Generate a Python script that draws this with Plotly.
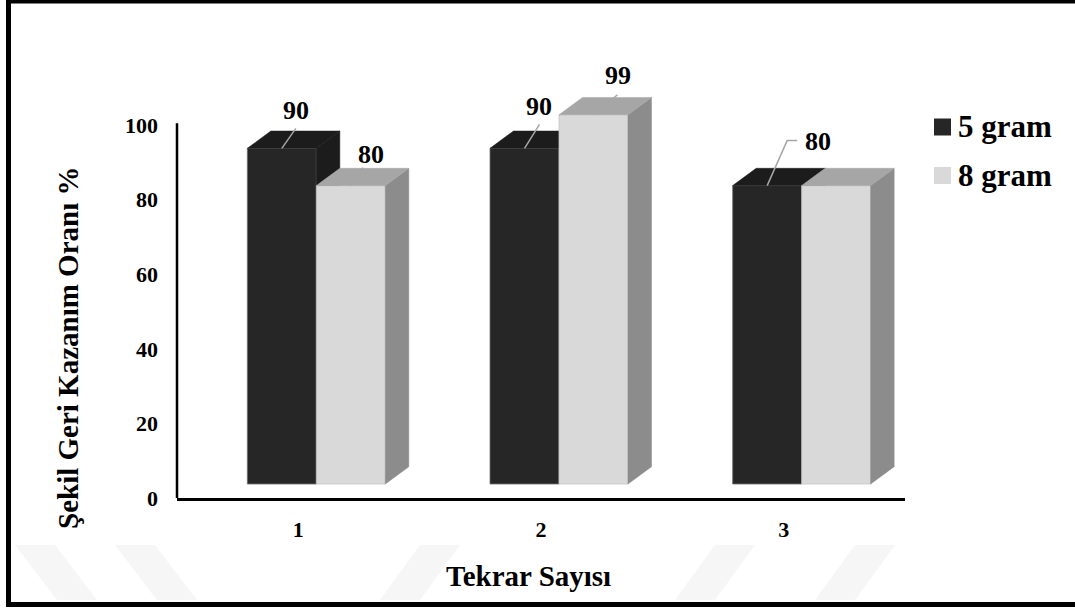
import plotly.graph_objects as go

# ---- data -------------------------------------------------------------
categories = ["1", "2", "3"]          # Tekrar Sayısı
series_names = ["5 gram", "8 gram"]
values_5g = [90, 90, 80]
values_8g = [80, 99, 80]
show_label_5g = [True, True, True]
show_label_8g = [True, True, False]

# ---- styling ----------------------------------------------------------
W_PX, H_PX = 1075, 608
FONT = "Liberation Serif"
FRONT = ["#262626", "#d9d9d9"]
TOP = ["#1c1c1c", "#a6a6a6"]
SIDE = ["#1c1c1c", "#8c8c8c"]
EDGE = ["#6e6e6e", "#c4c4c4"]

# plot box in pixels (x: 0.5..3.5 ; y: 0..Y_MAX)
X_LEFT, X_RIGHT = 177, 905
Y_ZERO_PX = 498
PX_PER_Y = 3.73
Y_MAX = 120
PX_PER_X = (X_RIGHT - X_LEFT) / 3.0

# pseudo-3D bar geometry (axis units)
BAR_W = 69 / PX_PER_X
SHIFT_X = 18 / PX_PER_X
DEPTH_X = 23.5 / PX_PER_X
DEPTH_Y = 17.3 / PX_PER_Y
BASE = 3.75

# data-label offsets from the bar's front-top centre, in pixels
# (text dx, text dy, leader points)
label_style = {
    (0, 0): ((14, -38), [(0, 0), (14, -20)]),
    (0, 1): ((14, -42), [(0, 0), (15, -24)]),
    (0, 2): ((51, -44), [(0, 0), (20, -45), (30, -45)]),
    (1, 0): ((20, -31), [(0, 0), (12, -18)]),
    (1, 1): ((24, -39), [(0, 0), (24, -20)]),
    (1, 2): ((20, -31), [(0, 0), (12, -18)]),
}

positions = [1, 2, 3]
all_values = [values_5g, values_8g]
all_show = [show_label_5g, show_label_8g]


def px_x(p):
    return p / W_PX


def px_y(p):
    return 1 - p / H_PX


fig = go.Figure()
annotations = []
shapes = []
leader_x, leader_y = [], []

for s, (name, vals) in enumerate(zip(series_names, all_values)):
    xa, ya = ("x", "y") if s == 0 else ("x2", "y2")
    offset = SHIFT_X - BAR_W + s * BAR_W

    # front faces
    fig.add_trace(go.Bar(
        x=positions, y=vals, base=BASE, width=BAR_W, offset=offset, name=name,
        marker=dict(color=FRONT[s], line=dict(color=EDGE[s], width=0.8)),
        showlegend=False, hoverinfo="skip", xaxis=xa, yaxis=ya,
    ))

    side_x, side_y, top_x, top_y = [], [], [], []
    for p, v in zip(positions, vals):
        x0 = p + offset
        x1 = x0 + BAR_W
        yt = BASE + v
        side_x += [x1, x1, x1 + DEPTH_X, x1 + DEPTH_X, x1, None]
        side_y += [BASE, yt, yt + DEPTH_Y, BASE + DEPTH_Y, BASE, None]
        top_x += [x0, x1, x1 + DEPTH_X, x0 + DEPTH_X, x0, None]
        top_y += [yt, yt, yt + DEPTH_Y, yt + DEPTH_Y, yt, None]

    fig.add_trace(go.Scatter(
        x=side_x, y=side_y, mode="lines", fill="toself", fillcolor=SIDE[s],
        line=dict(color=SIDE[s], width=0.5), showlegend=False,
        hoverinfo="skip", xaxis=xa, yaxis=ya,
    ))
    fig.add_trace(go.Scatter(
        x=top_x, y=top_y, mode="lines", fill="toself", fillcolor=TOP[s],
        line=dict(color=TOP[s], width=0.5), showlegend=False,
        hoverinfo="skip", xaxis=xa, yaxis=ya,
    ))

    # legend entry: swatch + name
    ly = 127 + 48.5 * s
    shapes.append(dict(type="rect", xref="paper", yref="paper",
                       x0=px_x(934), x1=px_x(951), y0=px_y(ly + 8.5), y1=px_y(ly - 8.5),
                       fillcolor=FRONT[s], line=dict(width=0)))
    annotations.append(dict(
        x=px_x(956), y=px_y(ly), xref="paper", yref="paper", text=name,
        showarrow=False, xanchor="left", yanchor="middle",
        font=dict(family=FONT, size=31, color="black", weight="bold"),
    ))

    # value labels with leader lines
    for i, (p, v) in enumerate(zip(positions, vals)):
        if not all_show[s][i]:
            continue
        cx = p + offset + BAR_W / 2
        cy = BASE + v
        (tdx, tdy), pts = label_style[(s, i)]
        annotations.append(dict(
            x=cx + tdx / PX_PER_X, y=cy - tdy / PX_PER_Y, xref="x", yref="y",
            text=str(v), showarrow=False, xanchor="center", yanchor="middle",
            font=dict(family=FONT, size=26, color="black", weight="bold"),
        ))
        for (dx, dy) in pts:
            leader_x.append(cx + dx / PX_PER_X)
            leader_y.append(cy - dy / PX_PER_Y)
        leader_x.append(None)
        leader_y.append(None)

fig.add_trace(go.Scatter(
    x=leader_x, y=leader_y, mode="lines",
    line=dict(color="#a6a6a6", width=1.5), showlegend=False,
    hoverinfo="skip", xaxis="x2", yaxis="y2",
))

# axis titles
annotations.append(dict(
    x=px_x(68), y=px_y(348), xref="paper", yref="paper",
    text="Şekil Geri Kazanım Oranı %", textangle=-90, showarrow=False,
    xanchor="center", yanchor="middle",
    font=dict(family=FONT, size=29, color="black", weight="bold"),
))
annotations.append(dict(
    x=px_x(528), y=px_y(576), xref="paper", yref="paper",
    text="Tekrar Sayısı", showarrow=False, xanchor="center", yanchor="middle",
    font=dict(family=FONT, size=29, color="black", weight="bold"),
))

y_top_px = Y_ZERO_PX - Y_MAX * PX_PER_Y
x_dom = [px_x(X_LEFT), px_x(X_RIGHT)]
y_dom = [px_y(Y_ZERO_PX), px_y(y_top_px)]
tick_font = dict(family=FONT, size=22, color="black", weight="bold")

# faint background watermark strokes along the bottom edge
# (top-left x, top-right x, horizontal shift from top to bottom)
for (xa_, xb_, shift) in [(15, 55, 42), (115, 155, 42), (420, 460, -40),
                          (715, 755, -40), (855, 895, -40)]:
    path = (f"M{px_x(xa_)},{px_y(545)} L{px_x(xb_)},{px_y(545)} "
            f"L{px_x(xb_ + shift)},{px_y(600)} L{px_x(xa_ + shift)},{px_y(600)} Z")
    shapes.append(dict(type="path", xref="paper", yref="paper", path=path,
                       fillcolor="#f6f6f6", line=dict(width=0), layer="below"))

shapes += [
    # y axis line, stops at 100
    dict(type="line", xref="x domain", yref="y", x0=0, x1=0, y0=0, y1=100.5,
         line=dict(color="black", width=2.5)),
    # outer frame (top, left, bottom)
    dict(type="line", xref="paper", yref="paper", x0=px_x(6), x1=1.0,
         y0=px_y(1.7), y1=px_y(1.7), line=dict(color="black", width=3.5)),
    dict(type="line", xref="paper", yref="paper", x0=px_x(8.5), x1=px_x(8.5),
         y0=px_y(606), y1=px_y(1), line=dict(color="black", width=5)),
    dict(type="line", xref="paper", yref="paper", x0=px_x(6), x1=1.0,
         y0=px_y(604.5), y1=px_y(604.5), line=dict(color="black", width=5)),
]

fig.update_layout(
    width=W_PX, height=H_PX,
    margin=dict(l=0, r=0, t=0, b=0, autoexpand=False),
    paper_bgcolor="white", plot_bgcolor="rgba(0,0,0,0)",
    barmode="overlay", showlegend=False,
    xaxis=dict(domain=x_dom, range=[0.5, 3.5], tickvals=positions,
               ticktext=categories, showline=True, linecolor="black",
               linewidth=2.5, ticks="", showgrid=False, zeroline=False,
               tickfont=tick_font, ticklabelstandoff=10, anchor="y",
               fixedrange=True, automargin=False),
    yaxis=dict(domain=y_dom, range=[0, Y_MAX], tickvals=[0, 20, 40, 60, 80, 100],
               showline=False, ticks="", showgrid=False, zeroline=False,
               tickfont=tick_font, ticklabelstandoff=18, anchor="x",
               fixedrange=True, automargin=False),
    xaxis2=dict(overlaying="x", matches="x", visible=False, anchor="y2"),
    yaxis2=dict(overlaying="y", matches="y", visible=False, anchor="x2"),
    annotations=annotations,
    shapes=shapes,
)

# the page holds only the figure: no scrolling
fig.write_html(
    "out.html",
    config={"displayModeBar": False},
    post_script="document.documentElement.style.overflow='hidden';"
                "document.body.style.overflow='hidden';"
                "document.body.style.margin='0';",
)
